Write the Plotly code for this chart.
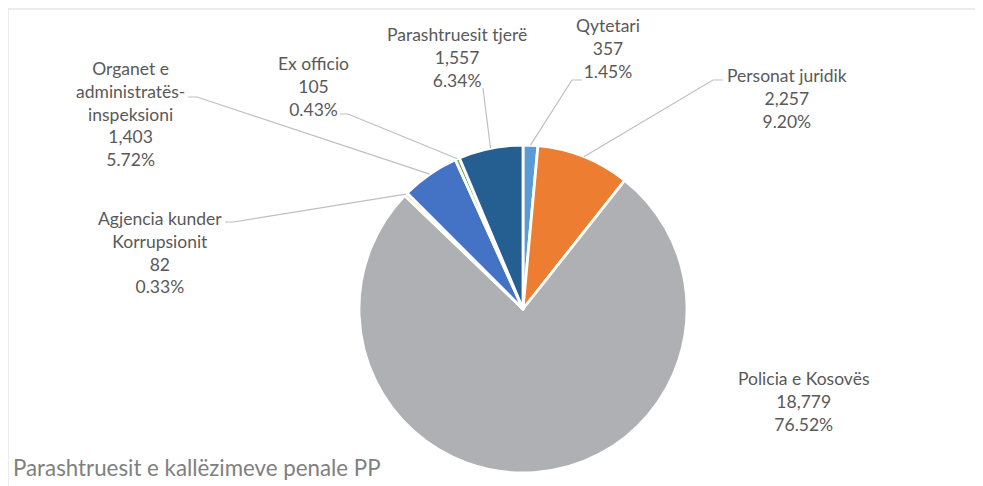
import math
import plotly.graph_objects as go

# te dhenat e grafikut
emrat = ["Qytetari", "Personat juridik", "Policia e Kosovës", "Agjencia kunder Korrupsionit",
         "Organet e administratës-inspeksioni", "Ex officio", "Parashtruesit tjerë"]
vlerat = [357, 2257, 18779, 82, 1403, 105, 1557]
etiketat = [
    "Qytetari<br>357<br>1.45%",
    "Personat juridik<br>2,257<br>9.20%",
    "Policia e Kosovës<br>18,779<br>76.52%",
    "Agjencia kunder<br>Korrupsionit<br>82<br>0.33%",
    "Organet e<br>administratës-<br>inspeksioni<br>1,403<br>5.72%",
    "Ex officio<br>105<br>0.43%",
    "Parashtruesit tjerë<br>1,557<br>6.34%",
]
ngjyrat = ["#5B9BD5", "#ED7D31", "#AFB0B3", "#FFC000", "#4472C4", "#70AD47", "#255E91"]

# faqja ka 8px margjine, prandaj figura zhvendoset
OFF = 8
W, H = 983 - OFF, 486 - OFF
cx, cy, r = 523, 309, 164  # qendra dhe rrezja e pites ne piksela te faqes

# pozicioni i etiketave (qendra e tekstit) dhe pikat e fillimit te vijave
pos_etiketave = [(608, 48), (787, 99), (803, 401), (160, 252), (130, 114), (313, 86), (457, 57)]
vija_fillim = [[(582, 80), (572, 80)], [(723, 80), (713, 80)], None, [(225, 222), (233, 222)],
               [(188, 97), (197, 97)], [(340, 114), (348, 114)], [(483, 88)]]

def px(x, y):
    return (x - OFF) / W, 1 - (y - OFF) / H

fig = go.Figure()
x0, y1 = px(cx - r, cy - r)
x1, y0 = px(cx + r, cy + r)
fig.add_trace(go.Pie(
    labels=emrat, values=vlerat, sort=False, direction="clockwise", rotation=0,
    marker=dict(colors=ngjyrat, line=dict(color="white", width=2.8)),
    textinfo="none", hoverinfo="label+value+percent", showlegend=False,
    domain=dict(x=[x0, x1], y=[y0, y1]),
))

total = sum(vlerat)
kum = 0
bx, by = px(8, 9)
shapes = [dict(type="rect", xref="paper", yref="paper", x0=bx, y0=-0.05, x1=1.05, y1=by,
               line=dict(color="#D9D9D9", width=1))]
annotations = []
for i, v in enumerate(vlerat):
    mes = (kum + v / 2) / total * 2 * math.pi
    kum += v
    ex, ey = cx + r * math.sin(mes), cy - r * math.cos(mes)
    ax, ay = px(*pos_etiketave[i])
    annotations.append(dict(text=etiketat[i], x=ax, y=ay, xref="paper", yref="paper",
                            xanchor="center", yanchor="middle",
                            showarrow=False, align="center",
                            font=dict(family="Lato", size=17.5, color="#595959")))
    if vija_fillim[i]:
        pts = vija_fillim[i] + [(ex, ey)]
        path = "M " + " L ".join("%f %f" % px(*p) for p in pts)
        shapes.append(dict(type="path", xref="paper", yref="paper", path=path,
                           line=dict(color="#BFBFBF", width=1.2)))

tx, ty = px(11, 467)
annotations.append(dict(text="Parashtruesit e kallëzimeve penale PP", x=tx, y=ty,
                        xref="paper", yref="paper", xanchor="left", yanchor="middle",
                        showarrow=False, font=dict(family="Lato", size=22.3, color="#808080")))

fig.update_layout(width=W, height=H, margin=dict(l=0, r=0, t=0, b=0),
                  paper_bgcolor="white", plot_bgcolor="white",
                  shapes=shapes, annotations=annotations)
fig.write_html("out.html")
